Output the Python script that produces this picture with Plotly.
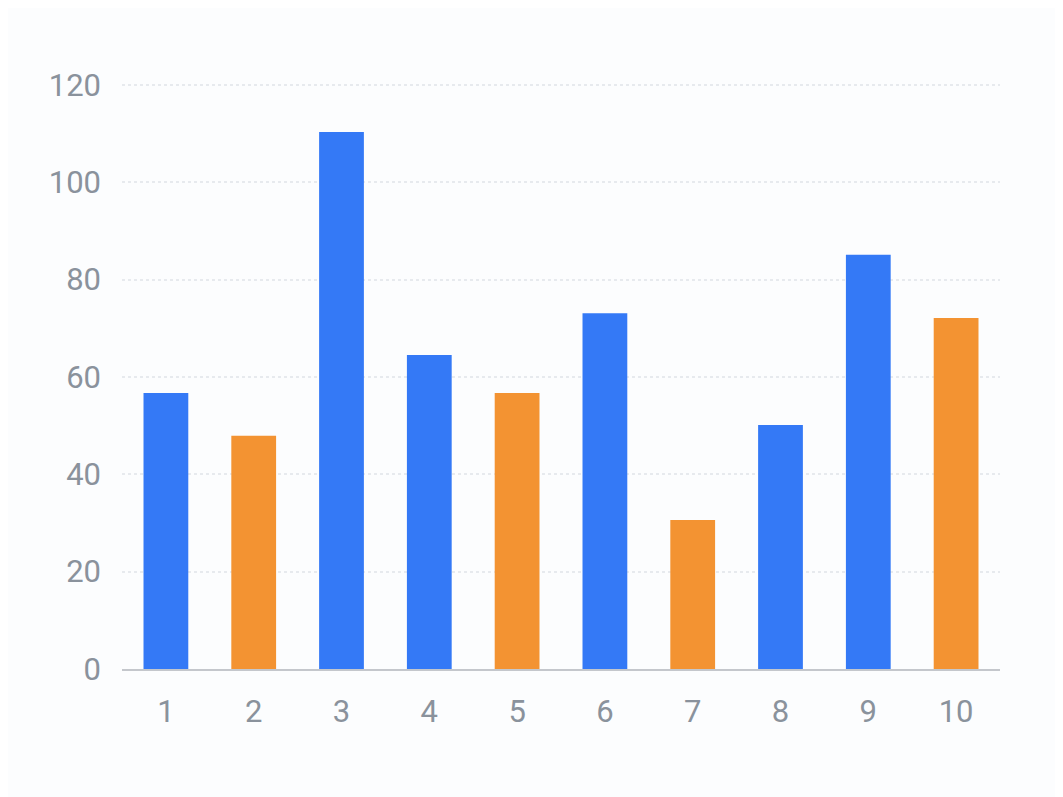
import plotly.graph_objects as go

# ── data ──────────────────────────────────────────────
categories = ['1', '2', '3', '4', '5', '6', '7', '8', '9', '10']
values = [56.7, 47.9, 110.3, 64.5, 56.7, 73.1, 30.6, 50.1, 85.1, 72.1]
highlight = [False, True, False, False, True, False, True, False, False, True]

BLUE = '#3479f6'
ORANGE = '#f39332'
bar_colors = [ORANGE if h else BLUE for h in highlight]

fig = go.Figure(go.Bar(
    x=categories, y=values,
    marker=dict(color=bar_colors, line=dict(width=0)),
    showlegend=False,
))

fig.update_layout(
    width=1063, height=797,
    margin=dict(l=114, r=71, t=72, b=136),
    paper_bgcolor='#fcfdfe',
    plot_bgcolor='#fcfdfe',
    bargap=0.49,
    font=dict(family='Roboto', size=31, color='#8a929c'),
)
fig.update_xaxes(
    type='category', showgrid=False,
    showline=True, linecolor='#c4c7cc', linewidth=2,
    ticks='', ticklabelstandoff=14,
)
fig.update_yaxes(
    range=[0, 121], tickvals=[0, 20, 40, 60, 80, 100, 120],
    showgrid=True, gridcolor='#e7eaee', gridwidth=1.5, griddash='dot',
    zeroline=False, ticks='', ticklabelstandoff=20,
)

fig.write_html('out.html')
